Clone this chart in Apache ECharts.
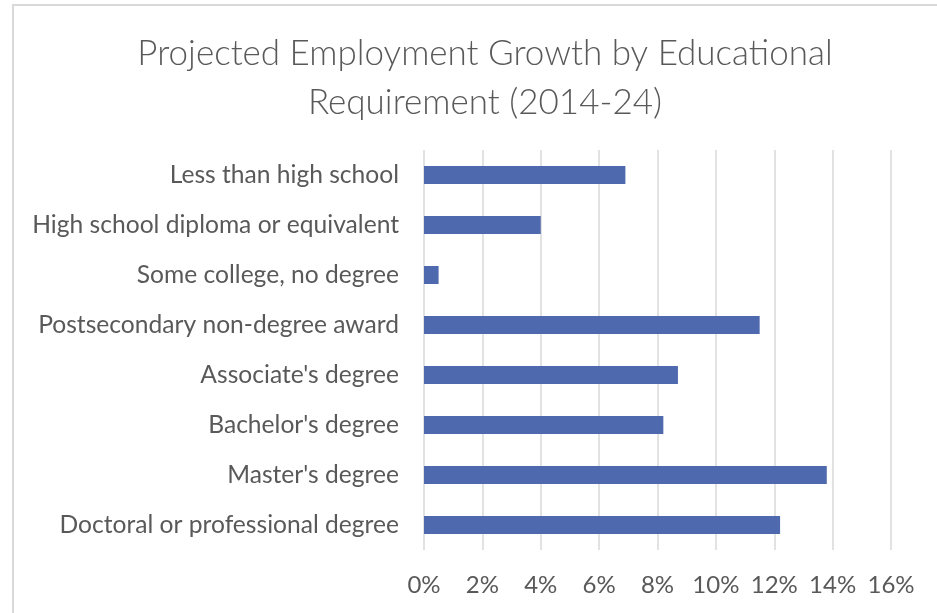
<!DOCTYPE html>
<html>
<head>
<meta charset="utf-8">
<script src="https://cdn.jsdelivr.net/npm/echarts@6/dist/echarts.min.js"></script>
<style>
html,body{margin:0;padding:0;background:#fff;}
#chart{width:937px;height:613px;}
</style>
</head>
<body>
<div id="chart"></div>
<script>
const titleText = "Projected Employment Growth by Educational\nRequirement (2014-24)";
const categories = [
  "Less than high school",
  "High school diploma or equivalent",
  "Some college, no degree",
  "Postsecondary non-degree award",
  "Associate's degree",
  "Bachelor's degree",
  "Master's degree",
  "Doctoral or professional degree"
];
const growth = [6.9, 4.0, 0.5, 11.5, 8.7, 8.2, 13.8, 12.2];
const xMin = 0, xMax = 16, xStep = 2;

const chart = echarts.init(document.getElementById('chart'));
chart.setOption({
  animation: false,
  backgroundColor: '#ffffff',
  graphic: [{
    type: 'rect',
    shape: {x: 13, y: 5, width: 1000, height: 700},
    style: {fill: 'none', stroke: '#d9d9d9', lineWidth: 2},
    silent: true
  }],
  title: {
    text: titleText,
    left: 480,
    top: 24,
    textAlign: 'center',
    textStyle: {
      fontFamily: 'Lato',
      fontWeight: 300,
      fontSize: 35,
      lineHeight: 49,
      color: '#595959'
    }
  },
  grid: {left: 424, right: 46, top: 150, bottom: 63, containLabel: false},
  xAxis: {
    type: 'value',
    min: xMin, max: xMax, interval: xStep,
    axisLine: {show: false},
    axisTick: {show: false},
    splitLine: {lineStyle: {color: '#d9d9d9', width: 1.5}},
    axisLabel: {
      formatter: v => v + '%',
      margin: 23,
      fontFamily: 'Lato',
      fontSize: 24,
      color: '#595959'
    }
  },
  yAxis: {
    type: 'category',
    data: categories,
    inverse: true,
    axisLine: {show: false},
    axisTick: {show: false},
    axisLabel: {
      margin: 25,
      fontFamily: 'Lato',
      fontSize: 24.6,
      color: '#595959'
    }
  },
  series: [{
    type: 'bar',
    data: growth,
    barCategoryGap: '64%',
    itemStyle: {color: '#4e69ad'}
  }]
});
</script>
</body>
</html>
